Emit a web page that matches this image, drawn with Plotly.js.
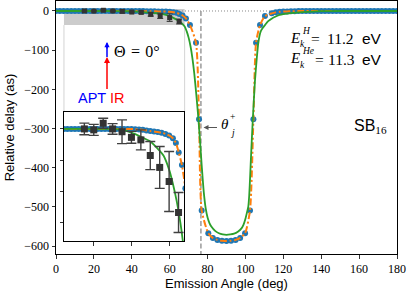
<!DOCTYPE html>
<html>
<head>
<meta charset="utf-8">
<script src="https://cdn.plot.ly/plotly-3.0.1.min.js"></script>
<style>html,body{margin:0;padding:0;background:#fff;}#chart{width:407px;height:292px;}</style>
</head>
<body>
<div id="chart"></div>
<script>
// ---- data ----
const blueAngle = [0,2,4,6,8,10,12,14,16,18,20,22,24,26,28,30,32,34,36,38,40,42,44,46,48,50,52,54,56,58,60,62,63.6,65.1,66.8,68.6,70.7,73.9,75.5,76.9,80.4,82.8,85.2,87.6,90,92.4,94.8,97.2,99.8,102.4,104.2,105.6,107.7,110.3,113.9,116,118,120,122,124,126,128,130,132,134,136,138,140,142,144,146,148,150,152,154,156,158,160,162,164,166,168,170,172,174,176,178,180];
const blueDelay = [0,0,0,0,0,0,0,0,0,0,0,0,0,0,0,0,0,0,0,0,0,-0.1,-0.2,-0.3,-0.5,-0.7,-0.8,-1.0,-1.2,-1.6,-2.1,-3.0,-4.5,-7.5,-11.5,-19,-36,-81,-276,-509,-567,-579,-584,-586,-587,-586,-584,-579,-567,-509,-276,-81,-36,-13,-6,-3.5,-2.2,-1.5,-1,-0.7,-0.5,-0.3,-0.2,0,0,0,0,0,0,0,0,0,0,0,0,0,0,0,0,0,0,0,0,0,0,0,0,0];

const greenAngle = [0,10,20,30,35,40,45,50,55,57,60,62,64,66,68,69,70,71,72,73,74,75,76,77,78,79,80,81,82,84,86,88,90,92,94,96,98,99,100,101,101.5,102,102.5,103,103.8,105,106,106.8,108,109,110.3,112,114,116,118,120,125,130,135,140,150,160,170,180];
const greenDelay = [0,0,0,0,-0.3,-1.2,-2.5,-4,-7,-8.5,-13,-17.5,-23,-30,-40,-52,-68,-90,-120,-160,-210,-265,-330,-400,-462,-503,-527,-541,-550,-561,-567,-570,-571,-570,-568,-563,-554,-545,-530,-510,-499,-470,-420,-365,-285,-180,-120,-81,-53,-44,-36,-26,-19,-14,-10,-8,-5,-3,-1.5,-0.5,0,0,0,0];

const expAngle = [15,20,25,30,35,40,45,50,55,60,65];
const expDelay = [0,-0.3,1.8,0,-0.9,-2.7,-3.5,-8.5,-12.3,-16.8,-26.7];
const expErr   = [1.85,1.75,1.6,1.7,3.8,1.9,3.2,4.5,6.7,9.6,6.4];

const xTicks = [0,20,40,60,80,100,120,140,160,180];
const yTicks = [-600,-500,-400,-300,-200,-100,0];
const insetXTicks = [20,40,60];
const insetYTicks = [-30,-20,-10,0];
const thetaJ = 76.5;

// ---- layout geometry (pixels) ----
const L = 56, T = 1, W = 341, H = 253;
const px = x => (x - L) / W;
const py = y => (T + H - y) / H;

const BLUE = '#1f77b4', ORANGE = '#ff7f0e', GREEN = '#2ca02c';
const SERIF = 'Liberation Serif', SANS = 'Liberation Sans';

function series(xa, ya, inset) {
  const t = [];
  t.push({x: blueAngle, y: blueDelay, xaxis: xa, yaxis: ya, mode: 'markers', type: 'scatter',
          marker: {color: BLUE, size: 6, line: {width: 0}}});
  t.push({x: blueAngle, y: blueDelay, xaxis: xa, yaxis: ya, mode: 'lines', type: 'scatter',
          line: {color: ORANGE, width: 2, dash: '7px,2.5px,2px,2.5px', shape: 'spline', smoothing: 0.6}});
  t.push({x: greenAngle, y: greenDelay, xaxis: xa, yaxis: ya, mode: 'lines', type: 'scatter',
          line: {color: GREEN, width: 1.8, shape: 'spline', smoothing: 0.6}});
  t.push({x: expAngle, y: expDelay, xaxis: xa, yaxis: ya, mode: 'markers', type: 'scatter',
          marker: {symbol: 'square', color: '#333333', size: inset ? 7 : 5},
          error_y: {type: 'data', array: expErr, visible: true, color: '#404040',
                    thickness: inset ? 1.4 : 1.1, width: inset ? 5 : 3}});
  return t;
}

const data = series('x', 'y', false).concat(series('x2', 'y2', true));

const axisBase = {showline: true, mirror: true, linecolor: '#000', linewidth: 1,
  ticks: 'outside', ticklen: 3.5, tickwidth: 0.8, tickcolor: '#000',
  showgrid: false, zeroline: false, tickfont: {family: SERIF, size: 12, color: '#000'}};

function label(x, y, text, size, family, anchor) {
  return {xref: 'paper', yref: 'paper', x: px(x), y: py(y), xanchor: anchor || 'left', yanchor: 'middle',
          showarrow: false, text: text, font: {family: family || SERIF, size: size, color: '#000'}};
}
function arrow(x, y, ax, ay, color, width, size) {
  return {xref: 'paper', yref: 'paper', x: px(x), y: py(y), ax: ax, ay: ay, text: '', showarrow: true,
          font: {size: 1}, arrowcolor: color, arrowwidth: width, arrowhead: 2, arrowsize: size,
          standoff: 0, startstandoff: 0};
}

const layout = {
  width: 407, height: 292,
  margin: {l: L, r: 407 - L - W, t: T, b: 292 - T - H},
  paper_bgcolor: '#fff', plot_bgcolor: '#fff',
  showlegend: false, hovermode: false,
  xaxis: Object.assign({}, axisBase, {range: [0, 180], tickmode: 'array', tickvals: xTicks,
    title: {text: 'Emission Angle (deg)', font: {family: SANS, size: 13, color: '#000'}, standoff: 3}}),
  yaxis: Object.assign({}, axisBase, {range: [-620, 25.5], tickmode: 'array', tickvals: yTicks,
    title: {text: 'Relative delay (as)', font: {family: SANS, size: 13, color: '#000'}, standoff: 6}}),
  xaxis2: Object.assign({}, axisBase, {domain: [px(64), px(184)], anchor: 'y2', range: [4.2, 67.9],
    tickmode: 'array', tickvals: insetXTicks, showticklabels: false}),
  yaxis2: Object.assign({}, axisBase, {domain: [py(241), py(112)], anchor: 'x2', range: [-35.8, 5.4],
    tickmode: 'array', tickvals: insetYTicks, showticklabels: false}),
  shapes: [
    {type: 'rect', xref: 'x', yref: 'y', x0: 4.2, x1: 67.9, y0: -35.8, y1: 5.4,
     fillcolor: '#cccccc', line: {width: 0}, layer: 'below'},
    {type: 'line', xref: 'x', yref: 'y', x0: 4.2, x1: 4.2, y0: -35.8, y1: -257.7,
     line: {color: '#d4d4d4', width: 1}, layer: 'below'},
    {type: 'line', xref: 'x', yref: 'y', x0: 67.9, x1: 67.9, y0: -35.8, y1: -257.7,
     line: {color: '#d4d4d4', width: 1}, layer: 'below'},
    {type: 'line', xref: 'x', yref: 'y', x0: 0, x1: 180, y0: 0, y1: 0,
     line: {color: '#888888', width: 1, dash: '1px,2px'}, layer: 'below'},
    {type: 'line', xref: 'x', yref: 'y', x0: thetaJ, x1: thetaJ, y0: 0, y1: -620,
     line: {color: '#9a9a9a', width: 1.5, dash: '5px,2.5px'}, layer: 'below'},
    // arrow shafts (APT / IR and theta_j)
    {type: 'line', xref: 'paper', yref: 'paper', x0: px(107), x1: px(107), y0: py(89), y1: py(60),
     line: {color: '#ff0000', width: 1.5}},
    {type: 'line', xref: 'paper', yref: 'paper', x0: px(107), x1: px(107), y0: py(57), y1: py(46),
     line: {color: '#0000ff', width: 1.5}},
    {type: 'line', xref: 'paper', yref: 'paper', x0: px(206), x1: px(217), y0: py(127.5), y1: py(127.5),
     line: {color: '#555555', width: 1}}
  ],
  annotations: [
    label(76, 98, '<span style="color:#0000ff">APT</span> <span style="color:#ff0000">IR</span>', 14.5, SANS),
    arrow(107, 57, 0, 8, '#ff0000', 1.5, 0.8),
    arrow(107, 42, 0, 8, '#0000ff', 1.5, 0.7),
    label(112, 52, 'Θ\u2004=\u20040°', 16),
    // E_k^H = 11.2 eV
    label(288, 37.5, '<i>E</i>', 15),
    label(299.5, 31, '<i>H</i>', 9.5),
    label(298, 44, '<i>k</i>', 9.5),
    label(309, 38, '=', 15.5),
    label(324.5, 38, '11.2', 15.5),
    label(384, 38, 'eV', 15.5, SANS, 'right'),
    // E_k^He = 11.3 eV
    label(288, 57.5, '<i>E</i>', 15),
    label(299.5, 51, '<i>He</i>', 9.5),
    label(298, 65, '<i>k</i>', 9.5),
    label(312.5, 59, '=', 15.5),
    label(326, 59, '11.3', 15.5),
    label(384, 59, 'eV', 15.5, SANS, 'right'),
    // SB16
    label(352, 126, 'SB<sub><span style="font-family:Liberation Serif">16</span></sub>', 16, SANS),
    // theta_j^+
    arrow(203.5, 127.5, 5, 0, '#555555', 1, 1),
    label(218.5, 124.5, '<i>θ</i>', 15),
    label(227.5, 116.5, '+', 9.5),
    label(227.5, 133, '<i>j</i>', 9.5)
  ]
};

Plotly.newPlot('chart', data, layout, {staticPlot: true, displayModeBar: false});
</script>
</body>
</html>
